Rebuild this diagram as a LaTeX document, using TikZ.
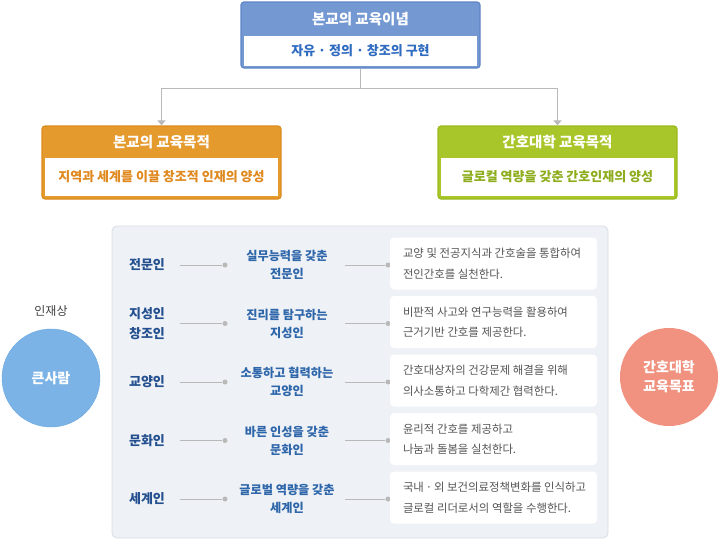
\documentclass[tikz,border=0pt]{standalone}
\usepackage{fontspec}
\setmainfont{Noto Sans CJK KR}
\usetikzlibrary{arrows.meta}
\definecolor{hblue}{HTML}{7398D2}
\definecolor{hblueD}{HTML}{5F86C6}
\definecolor{tblue}{HTML}{2F6BC0}
\definecolor{horange}{HTML}{E59A2E}
\definecolor{horangeD}{HTML}{DB8C1E}
\definecolor{torange}{HTML}{E0891F}
\definecolor{hgreen}{HTML}{A8C62A}
\definecolor{hgreenD}{HTML}{9CBB1F}
\definecolor{tgreen}{HTML}{8DAD1C}
\definecolor{panelbg}{HTML}{EEF1F6}
\definecolor{panelbd}{HTML}{D6DDE7}
\definecolor{lgray}{HTML}{B9B9B9}
\definecolor{labelc}{HTML}{24508F}
\definecolor{midc}{HTML}{2E66AA}
\definecolor{descc}{HTML}{555555}
\definecolor{cblue}{HTML}{7BB3E6}
\definecolor{cblueD}{HTML}{6AA6E0}
\definecolor{csalmon}{HTML}{F0927F}
\begin{document}
\begin{tikzpicture}[x=1pt,y=-1pt,
  outerbox/.style={draw, line width=1.2pt, rounded corners=3pt, inner sep=0pt},
  innerbox/.style={fill=white, inner sep=0pt},
  titletxt/.style={text=white, font=\fontsize{14.5}{17}\selectfont\bfseries, inner sep=0pt},
  bodytxt/.style={font=\fontsize{13}{15}\selectfont\bfseries, inner sep=0pt},
  conn/.style={draw=lgray, line width=1pt},
  arr/.style={conn, -{Triangle[width=8pt,length=5pt]}},
  panel/.style={fill=panelbg, draw=panelbd, line width=0.8pt, rounded corners=5pt, minimum width=496pt, minimum height=312pt, inner sep=0pt},
  lab/.style={text=labelc, font=\fontsize{13}{20}\selectfont\bfseries, align=center, minimum width=66pt, inner sep=0pt},
  mid/.style={text=midc, font=\fontsize{12.2}{18}\selectfont\bfseries, align=center, minimum width=116pt, inner sep=0pt},
  dot/.style={circle, fill=lgray, minimum size=5pt, inner sep=0pt},
  descbox/.style={fill=white, rounded corners=4pt, minimum width=207pt, minimum height=52pt, inner sep=0pt},
  desctxt/.style={anchor=west, align=left, inner sep=0pt, text=descc, font=\fontsize{11.4}{20.5}\selectfont},
  circ/.style={circle, minimum size=98pt, inner sep=0pt, text=white, align=center, font=\fontsize{14}{19}\selectfont\bfseries}
]
\useasboundingbox (0,0) rectangle (720,546);

% top box
\node[outerbox, fill=hblue, draw=hblueD, minimum width=239pt, minimum height=66pt] (top) at (360.5,35) {};
\node[innerbox, minimum width=233pt, minimum height=30pt] (topbody) at (360.5,51) {};
\node[titletxt] (toptitle) at (360.5,19) {본교의 교육이념};
\node[bodytxt, text=tblue] (toptext) at (360.5,51) {자유 · 정의 · 창조의 구현};

% orange box
\node[outerbox, fill=horange, draw=horangeD, minimum width=239pt, minimum height=73pt] (lbox) at (161.5,162.5) {};
\node[innerbox, minimum width=233pt, minimum height=38pt] (lbody) at (161.5,177) {};
\node[titletxt] (ltitle) at (161.5,142) {본교의 교육목적};
\node[bodytxt, text=torange] (ltext) at (161.5,177) {지역과 세계를 이끌 창조적 인재의 양성};

% green box
\node[outerbox, fill=hgreen, draw=hgreenD, minimum width=239pt, minimum height=73pt] (rbox) at (557.5,162.5) {};
\node[innerbox, minimum width=233pt, minimum height=38pt] (rbody) at (557.5,177) {};
\node[titletxt] (rtitle) at (557.5,142) {간호대학 교육목적};
\node[bodytxt, text=tgreen] (rtext) at (557.5,177) {글로컬 역량을 갖춘 간호인재의 양성};

% connectors
\coordinate (split) at (360.5,88);
\draw[conn] (top.south) -- (split);
\draw[arr] (split) -| (lbox.north);
\draw[arr] (split) -| (rbox.north);

% panel
\node[panel] (panel) at (360,382) {};

% rows
\foreach \i/\y/\l/\m/\d in {
  1/265/{전문인}/{실무능력을 갖춘\\전문인}/{교양 및 전공지식과 간호술을 통합하여\\전인간호를 실천한다.},
  2/323.5/{지성인\\창조인}/{진리를 탐구하는\\지성인}/{비판적 사고와 연구능력을 활용하여\\근거기반 간호를 제공한다.},
  3/382/{교양인}/{소통하고 협력하는\\교양인}/{간호대상자의 건강문제 해결을 위해\\의사소통하고 다학제간 협력한다.},
  4/440.5/{문화인}/{바른 인성을 갖춘\\문화인}/{윤리적 간호를 제공하고\\나눔과 돌봄을 실천한다.},
  5/499/{세계인}/{글로벌 역량을 갖춘\\세계인}/{국내\,·\,외 보건의료정책변화를 인식하고\\글로컬 리더로서의 역할을 수행한다.}}
{
  \node[lab] (l\i) at (147,\y) {\l};
  \node[dot] (da\i) at (225,\y) {};
  \node[mid] (m\i) at (287,\y) {\m};
  \node[dot] (db\i) at (388,\y) {};
  \node[descbox] (r\i) at (493.5,\y-1.5) {};
  \node[desctxt] (t\i) at ([xshift=13pt]r\i.west) {\d};
  \draw[conn] (l\i.east) -- (da\i);
  \draw[conn] (m\i.east) -- (db\i);
}

% circles
\node[text=black!75, font=\fontsize{12}{14}\selectfont] (injae) at (51,311) {인재상};
\node[circ, fill=cblue, draw=cblueD] (big) at (51,378) {큰사람};
\node[circ, fill=csalmon] (goal) at (669,377) {간호대학\\교육목표};
\end{tikzpicture}
\end{document}
